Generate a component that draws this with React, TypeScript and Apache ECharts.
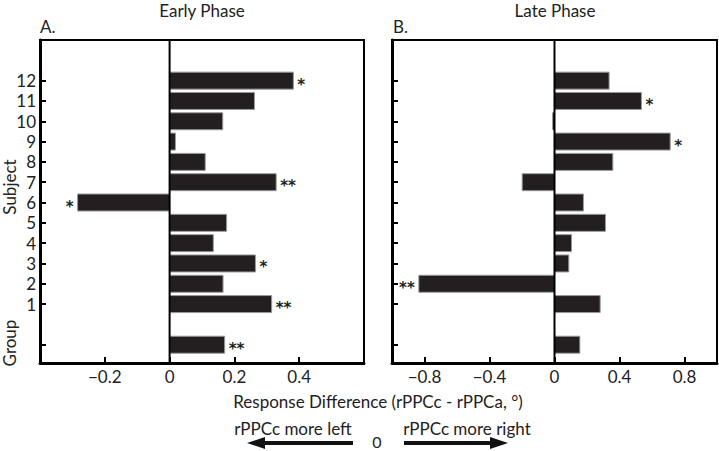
import React, { useEffect, useRef } from 'react';
import * as echarts from 'echarts';

// Rows: "Group" then subjects 1..12
const rowLabels = ['Group', '1', '2', '3', '4', '5', '6', '7', '8', '9', '10', '11', '12'];
const rowPositions = [0, 2, 3, 4, 5, 6, 7, 8, 9, 10, 11, 12, 13];

const earlyValues = [0.170, 0.315, 0.165, 0.265, 0.135, 0.176, -0.284, 0.329, 0.110, 0.018, 0.164, 0.262, 0.382];
const earlySig = ['**', '**', '', '*', '', '', '*', '**', '', '', '', '', '*'];

const lateValues = [0.156, 0.281, -0.835, 0.088, 0.105, 0.314, 0.178, -0.199, 0.359, 0.712, -0.012, 0.535, 0.336];
const lateSig = ['', '', '**', '', '', '', '', '', '', '*', '', '*', ''];

const earlyTicks = [-0.2, 0, 0.2, 0.4];
const lateTicks = [-0.8, -0.4, 0, 0.4, 0.8];

const FONT = 'Lato, "Open Sans", sans-serif';
const BAR = '#231f20';

function fmt(v: number) {
  if (v === 0) return '0';
  const s = Math.abs(v).toFixed(1);
  return v < 0 ? '\u2212' + s : s;
}

function makeSeries(values: number[], sig: string[], idx: number) {
  return [
    {
      type: 'custom',
      xAxisIndex: idx,
      yAxisIndex: idx,
      data: values.map((v, i) => [v, rowPositions[i]]),
      renderItem: (params: any, api: any) => {
        const v = api.value(0);
        const p = api.value(1);
        const a = api.coord([0, p]);
        const b = api.coord([v, p]);
        const h = 17;
        const x0 = Math.min(a[0], b[0]);
        const w = Math.abs(b[0] - a[0]);
        const s = sig[params.dataIndex];
        const children: any[] = [
          {
            type: 'rect',
            shape: { x: x0, y: a[1] - h / 2, width: w, height: h },
            style: { fill: BAR, stroke: '#9a9a9a', lineWidth: 1 },
          },
        ];
        if (s) {
          const neg = v < 0;
          children.push({
            type: 'text',
            x: neg ? x0 - 4 : x0 + w + 4,
            y: a[1] + 4,
            style: {
              text: s,
              fill: BAR,
              font: 'bold 15px "DejaVu Sans"',
              align: neg ? 'right' : 'left',
              verticalAlign: 'middle',
            },
          });
        }
        return { type: 'group', children };
      },
    },
    {
      type: 'line',
      xAxisIndex: idx,
      yAxisIndex: idx,
      data: [[0, -0.9], [0, 15]],
      symbol: 'none',
      lineStyle: { color: '#000', width: 2 },
      silent: true,
    },
  ];
}

export default function App() {
  const ref = useRef<HTMLDivElement>(null);
  useEffect(() => {
    if (!ref.current) return;
    const chart = echarts.init(ref.current, null, { renderer: 'svg' });
    const labelPositions = rowPositions.filter((p) => p > 0);
    const yAxisBase = (showLabels: boolean, idx: number) => ({
      type: 'value',
      gridIndex: idx,
      min: -0.9,
      max: 15,
      splitLine: { show: false },
      axisLine: { show: true, onZero: false, lineStyle: { color: '#000', width: 3 } },
      axisTick: {
        show: true,
        inside: true,
        length: 6,
        lineStyle: { color: '#000', width: 2 },
        customValues: rowPositions,
      },
      axisLabel: {
        show: showLabels,
        customValues: labelPositions,
        formatter: (v: number) => String(v - 1),
        color: '#222',
        fontFamily: FONT,
        fontSize: 17,
        margin: 4,
      },
    });
    const xAxisBase = (min: number, max: number, ticks: number[], idx: number) => ({
      type: 'value',
      gridIndex: idx,
      min,
      max,
      splitLine: { show: false },
      axisLine: { show: true, onZero: false, lineStyle: { color: '#000', width: 3 } },
      axisTick: {
        show: true,
        inside: true,
        length: 6,
        lineStyle: { color: '#000', width: 2 },
        customValues: ticks,
      },
      axisLabel: {
        customValues: ticks,
        formatter: (v: number) => fmt(v),
        color: '#222',
        fontFamily: FONT,
        fontSize: 17,
        margin: 5,
      },
    });
    const textStyle = { fill: '#222', font: '17px ' + FONT, align: 'center', verticalAlign: 'middle' };
    chart.setOption({
      animation: false,
      grid: [
        { left: 40, top: 40, width: 324, height: 323, show: true, borderColor: '#000', borderWidth: 2, backgroundColor: 'transparent' },
        { left: 392, top: 40, width: 325, height: 323, show: true, borderColor: '#000', borderWidth: 2, backgroundColor: 'transparent' },
      ],
      xAxis: [xAxisBase(-0.4, 0.6, earlyTicks, 0), xAxisBase(-1, 1, lateTicks, 1)],
      yAxis: [yAxisBase(true, 0), yAxisBase(false, 1)],
      series: [...makeSeries(earlyValues, earlySig, 0), ...makeSeries(lateValues, lateSig, 1)],
      graphic: [
        { type: 'text', x: 202, y: 10, style: { ...textStyle, text: 'Early Phase' } },
        { type: 'text', x: 40, y: 26, style: { ...textStyle, align: 'left', text: 'A.' } },
        { type: 'text', x: 555, y: 10, style: { ...textStyle, text: 'Late Phase' } },
        { type: 'text', x: 393, y: 26, style: { ...textStyle, align: 'left', text: 'B.' } },
        { type: 'text', x: 9, y: 187, rotation: Math.PI / 2, style: { ...textStyle, text: 'Subject' } },
        { type: 'text', x: 9, y: 343, rotation: Math.PI / 2, style: { ...textStyle, text: 'Group' } },
        { type: 'text', x: 378, y: 401, style: { ...textStyle, text: 'Response Difference (rPPCc - rPPCa, \u00b0)' } },
        { type: 'text', x: 293, y: 428, style: { ...textStyle, text: 'rPPCc more left' } },
        { type: 'text', x: 467, y: 428, style: { ...textStyle, text: 'rPPCc more right' } },
        { type: 'text', x: 377, y: 441, style: { ...textStyle, font: '16px ' + FONT, text: '0' } },
        { type: 'line', shape: { x1: 262, y1: 443, x2: 353, y2: 443 }, style: { stroke: '#111', lineWidth: 4 } },
        { type: 'polygon', shape: { points: [[247, 443], [265, 437], [265, 449]] }, style: { fill: '#111' } },
        { type: 'line', shape: { x1: 404, y1: 443, x2: 492, y2: 443 }, style: { stroke: '#111', lineWidth: 4 } },
        { type: 'polygon', shape: { points: [[508, 443], [490, 437], [490, 449]] }, style: { fill: '#111' } },
      ],
    });
    return () => chart.dispose();
  }, []);
  return <div ref={ref} style={{ width: 719, height: 451, position: 'absolute', left: 0, top: 0 }} />;
}
